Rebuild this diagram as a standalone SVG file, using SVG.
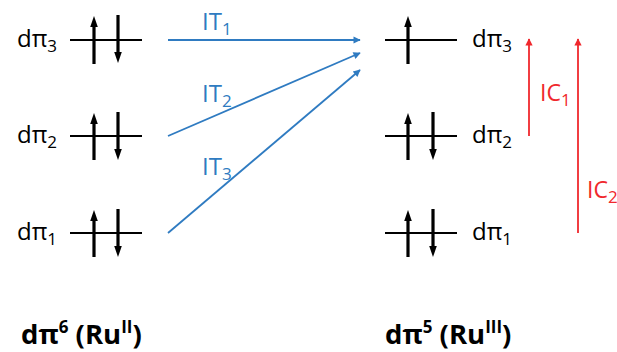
<svg xmlns="http://www.w3.org/2000/svg" width="617" height="352" viewBox="0 0 617 352">
<defs>
<style>
.lvl{stroke:#000;stroke-width:2;fill:none}
.spin{stroke:#000;stroke-width:3.2;fill:none}
.hd{fill:#000}
.it{stroke:#2F7BC1;stroke-width:1.8;fill:none}
.ic{stroke:#F0282D;stroke-width:1.8;fill:none}
.lab{font-family:"Open Sans","Liberation Sans",sans-serif;font-size:24px;fill:#000}
.sub{font-size:17px}
.itl{font-family:"Open Sans","Liberation Sans",sans-serif;font-size:24px;fill:#2F7BC1}
.icl{font-family:"Open Sans","Liberation Sans",sans-serif;font-size:23px;fill:#F0282D}
.big{font-family:"Open Sans","Liberation Sans",sans-serif;font-size:27.5px;font-weight:bold;fill:#000}
.sup{font-size:17px}
</style>
<path id="up" class="hd" d="M0,0 L-3.8,11 L3.8,11 z"/>
<path id="dn" class="hd" d="M0,0 L-3.8,-11 L3.8,-11 z"/>
<marker id="bh" viewBox="0 0 10 10" refX="9" refY="5" markerWidth="5" markerHeight="4" markerUnits="strokeWidth" orient="auto">
<path d="M0,0 L10,5 L0,10 z" fill="#2F7BC1"/>
</marker>
<marker id="rh" viewBox="0 0 10 10" refX="9" refY="5" markerWidth="5" markerHeight="4" markerUnits="strokeWidth" orient="auto">
<path d="M0,0 L10,5 L0,10 z" fill="#F0282D"/>
</marker>
</defs>
<rect width="617" height="352" fill="#fff"/>

<g id="left-dpi3">
<line class="lvl" x1="70" y1="40" x2="142" y2="40"/>
<line class="spin" x1="94" y1="64" x2="94" y2="25"/>
<use href="#up" x="94" y="16"/>
<line class="spin" x1="118" y1="15" x2="118" y2="54"/>
<use href="#dn" x="118" y="63"/>
<text class="lab" x="17" y="47">dπ<tspan class="sub" dy="5">3</tspan></text>
</g>
<g id="left-dpi2">
<line class="lvl" x1="70" y1="136" x2="142" y2="136"/>
<line class="spin" x1="94" y1="160" x2="94" y2="122"/>
<use href="#up" x="94" y="113"/>
<line class="spin" x1="118" y1="112" x2="118" y2="151"/>
<use href="#dn" x="118" y="160"/>
<text class="lab" x="17" y="143">dπ<tspan class="sub" dy="5">2</tspan></text>
</g>
<g id="left-dpi1">
<line class="lvl" x1="70" y1="233" x2="142" y2="233"/>
<line class="spin" x1="94" y1="257" x2="94" y2="219"/>
<use href="#up" x="94" y="210"/>
<line class="spin" x1="118" y1="209" x2="118" y2="248"/>
<use href="#dn" x="118" y="257"/>
<text class="lab" x="17" y="240">dπ<tspan class="sub" dy="5">1</tspan></text>
</g>

<g id="right-dpi3">
<line class="lvl" x1="385" y1="40" x2="457" y2="40"/>
<line class="spin" x1="408" y1="64" x2="408" y2="25"/>
<use href="#up" x="408" y="16"/>
<text class="lab" x="472" y="47">dπ<tspan class="sub" dy="5">3</tspan></text>
</g>
<g id="right-dpi2">
<line class="lvl" x1="385" y1="136" x2="457" y2="136"/>
<line class="spin" x1="408" y1="160" x2="408" y2="122"/>
<use href="#up" x="408" y="113"/>
<line class="spin" x1="433" y1="112" x2="433" y2="151"/>
<use href="#dn" x="433" y="160"/>
<text class="lab" x="472" y="143">dπ<tspan class="sub" dy="5">2</tspan></text>
</g>
<g id="right-dpi1">
<line class="lvl" x1="385" y1="233" x2="457" y2="233"/>
<line class="spin" x1="408" y1="257" x2="408" y2="219"/>
<use href="#up" x="408" y="210"/>
<line class="spin" x1="433" y1="209" x2="433" y2="248"/>
<use href="#dn" x="433" y="257"/>
<text class="lab" x="472" y="240">dπ<tspan class="sub" dy="5">1</tspan></text>
</g>

<g id="connectors">
<line class="it" x1="168" y1="40" x2="360" y2="40" marker-end="url(#bh)"/>
<line class="it" x1="168" y1="136" x2="360" y2="53" marker-end="url(#bh)"/>
<line class="it" x1="168" y1="233" x2="360" y2="70" marker-end="url(#bh)"/>
<line class="ic" x1="529" y1="136" x2="529" y2="39" marker-end="url(#rh)"/>
<line class="ic" x1="578" y1="233" x2="578" y2="39" marker-end="url(#rh)"/>
</g>

<g id="labels">
<text class="itl" x="202" y="30">IT<tspan class="sub" dy="5">1</tspan></text>
<text class="itl" x="202" y="102">IT<tspan class="sub" dy="5">2</tspan></text>
<text class="itl" x="202" y="175">IT<tspan class="sub" dy="5">3</tspan></text>
<text class="icl" x="540" y="101">IC<tspan class="sub" dy="5">1</tspan></text>
<text class="icl" x="587" y="198">IC<tspan class="sub" dy="5">2</tspan></text>
</g>

<g id="titles">
<text class="big" x="21" y="344">dπ<tspan class="sup" dy="-11">6</tspan><tspan dy="11"> (Ru</tspan><tspan class="sup" dy="-11">II</tspan><tspan dy="11">)</tspan></text>
<text class="big" x="385" y="344">dπ<tspan class="sup" dy="-11">5</tspan><tspan dy="11"> (Ru</tspan><tspan class="sup" dy="-11">III</tspan><tspan dy="11">)</tspan></text>
</g>
</svg>
